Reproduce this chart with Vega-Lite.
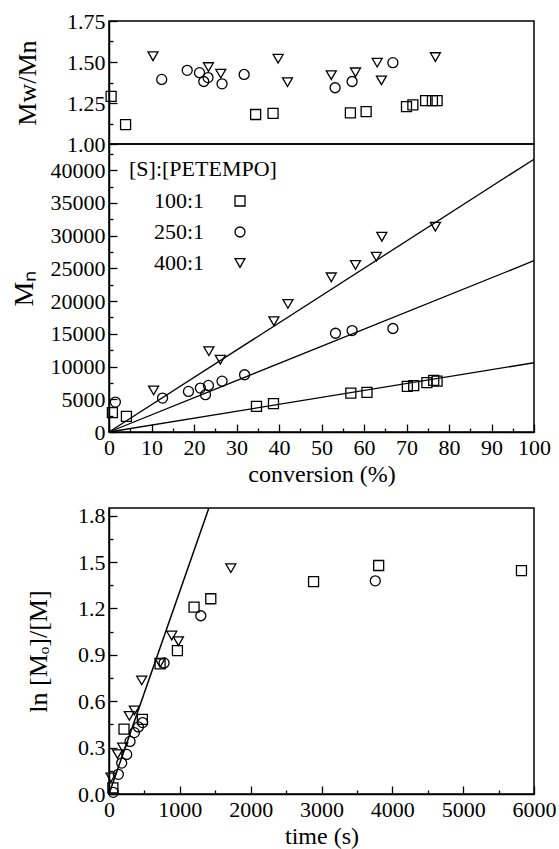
{
  "$schema": "https://vega.github.io/schema/vega-lite/v6.json",
  "padding": {"left": 9, "top": 9, "right": 5, "bottom": 0},
  "background": "white",
  "datasets": {
    "mw": [
      {"series": "100:1", "conversion": 0.5, "mwmn": 1.29},
      {"series": "100:1", "conversion": 3.9, "mwmn": 1.118},
      {"series": "100:1", "conversion": 34.5, "mwmn": 1.18},
      {"series": "100:1", "conversion": 38.6, "mwmn": 1.187},
      {"series": "100:1", "conversion": 56.8, "mwmn": 1.19},
      {"series": "100:1", "conversion": 60.5, "mwmn": 1.198},
      {"series": "100:1", "conversion": 70.0, "mwmn": 1.228},
      {"series": "100:1", "conversion": 71.5, "mwmn": 1.239},
      {"series": "100:1", "conversion": 74.5, "mwmn": 1.265},
      {"series": "100:1", "conversion": 76.1, "mwmn": 1.265},
      {"series": "100:1", "conversion": 77.2, "mwmn": 1.265},
      {"series": "250:1", "conversion": 12.4, "mwmn": 1.394},
      {"series": "250:1", "conversion": 18.4, "mwmn": 1.449},
      {"series": "250:1", "conversion": 21.3, "mwmn": 1.435},
      {"series": "250:1", "conversion": 22.3, "mwmn": 1.381},
      {"series": "250:1", "conversion": 23.3, "mwmn": 1.405},
      {"series": "250:1", "conversion": 26.6, "mwmn": 1.367},
      {"series": "250:1", "conversion": 31.8, "mwmn": 1.424},
      {"series": "250:1", "conversion": 53.2, "mwmn": 1.343},
      {"series": "250:1", "conversion": 57.2, "mwmn": 1.381},
      {"series": "250:1", "conversion": 66.8, "mwmn": 1.496},
      {"series": "400:1", "conversion": 10.35, "mwmn": 1.535},
      {"series": "400:1", "conversion": 23.4, "mwmn": 1.469},
      {"series": "400:1", "conversion": 26.3, "mwmn": 1.429},
      {"series": "400:1", "conversion": 39.8, "mwmn": 1.52},
      {"series": "400:1", "conversion": 42.0, "mwmn": 1.377},
      {"series": "400:1", "conversion": 52.3, "mwmn": 1.42},
      {"series": "400:1", "conversion": 58.0, "mwmn": 1.437},
      {"series": "400:1", "conversion": 63.1, "mwmn": 1.496},
      {"series": "400:1", "conversion": 64.1, "mwmn": 1.388},
      {"series": "400:1", "conversion": 76.8, "mwmn": 1.53}
    ],
    "mn": [
      {"series": "100:1", "conversion": 0.8, "Mn": 2960},
      {"series": "100:1", "conversion": 4.1, "Mn": 2390},
      {"series": "100:1", "conversion": 34.7, "Mn": 3920},
      {"series": "100:1", "conversion": 38.7, "Mn": 4330},
      {"series": "100:1", "conversion": 56.9, "Mn": 5950},
      {"series": "100:1", "conversion": 60.7, "Mn": 6050},
      {"series": "100:1", "conversion": 70.2, "Mn": 6970},
      {"series": "100:1", "conversion": 71.7, "Mn": 7070},
      {"series": "100:1", "conversion": 74.8, "Mn": 7530},
      {"series": "100:1", "conversion": 76.4, "Mn": 7880},
      {"series": "100:1", "conversion": 77.2, "Mn": 7780},
      {"series": "250:1", "conversion": 1.5, "Mn": 4570},
      {"series": "250:1", "conversion": 12.6, "Mn": 5180},
      {"series": "250:1", "conversion": 18.7, "Mn": 6200},
      {"series": "250:1", "conversion": 21.5, "Mn": 6710},
      {"series": "250:1", "conversion": 22.7, "Mn": 5700},
      {"series": "250:1", "conversion": 23.4, "Mn": 7120},
      {"series": "250:1", "conversion": 26.6, "Mn": 7770},
      {"series": "250:1", "conversion": 31.9, "Mn": 8750},
      {"series": "250:1", "conversion": 53.3, "Mn": 15090},
      {"series": "250:1", "conversion": 57.2, "Mn": 15500},
      {"series": "250:1", "conversion": 66.8, "Mn": 15810},
      {"series": "400:1", "conversion": 10.5, "Mn": 6360},
      {"series": "400:1", "conversion": 23.5, "Mn": 12350},
      {"series": "400:1", "conversion": 26.2, "Mn": 11040},
      {"series": "400:1", "conversion": 38.8, "Mn": 16920},
      {"series": "400:1", "conversion": 42.1, "Mn": 19570},
      {"series": "400:1", "conversion": 52.3, "Mn": 23630},
      {"series": "400:1", "conversion": 58.0, "Mn": 25520},
      {"series": "400:1", "conversion": 62.9, "Mn": 26780},
      {"series": "400:1", "conversion": 64.2, "Mn": 29830},
      {"series": "400:1", "conversion": 76.8, "Mn": 31360}
    ],
    "mnline": [
      {"series": "100:1", "conversion": 0, "Mn": 0},
      {"series": "100:1", "conversion": 100, "Mn": 10580},
      {"series": "250:1", "conversion": 0, "Mn": 0},
      {"series": "250:1", "conversion": 100, "Mn": 26170},
      {"series": "400:1", "conversion": 0, "Mn": 0},
      {"series": "400:1", "conversion": 100, "Mn": 41680}
    ],
    "kin": [
      {"series": "100:1", "time": 55, "lnm": 0.04},
      {"series": "100:1", "time": 212, "lnm": 0.419},
      {"series": "100:1", "time": 471, "lnm": 0.483},
      {"series": "100:1", "time": 721, "lnm": 0.842},
      {"series": "100:1", "time": 966, "lnm": 0.928},
      {"series": "100:1", "time": 1201, "lnm": 1.209},
      {"series": "100:1", "time": 1437, "lnm": 1.263},
      {"series": "100:1", "time": 2888, "lnm": 1.374},
      {"series": "100:1", "time": 3807, "lnm": 1.478},
      {"series": "100:1", "time": 5823, "lnm": 1.445},
      {"series": "250:1", "time": 60, "lnm": 0.011},
      {"series": "250:1", "time": 132, "lnm": 0.127},
      {"series": "250:1", "time": 179, "lnm": 0.2},
      {"series": "250:1", "time": 250, "lnm": 0.256},
      {"series": "250:1", "time": 297, "lnm": 0.34},
      {"series": "250:1", "time": 358, "lnm": 0.397},
      {"series": "250:1", "time": 415, "lnm": 0.434},
      {"series": "250:1", "time": 476, "lnm": 0.462},
      {"series": "250:1", "time": 777, "lnm": 0.848},
      {"series": "250:1", "time": 1296, "lnm": 1.153},
      {"series": "250:1", "time": 3759, "lnm": 1.379},
      {"series": "400:1", "time": 28, "lnm": 0.107},
      {"series": "400:1", "time": 120, "lnm": 0.258},
      {"series": "400:1", "time": 193, "lnm": 0.301},
      {"series": "400:1", "time": 287, "lnm": 0.505},
      {"series": "400:1", "time": 358, "lnm": 0.541},
      {"series": "400:1", "time": 462, "lnm": 0.735},
      {"series": "400:1", "time": 721, "lnm": 0.849},
      {"series": "400:1", "time": 886, "lnm": 1.025},
      {"series": "400:1", "time": 980, "lnm": 0.988},
      {"series": "400:1", "time": 1720, "lnm": 1.461}
    ],
    "kinline": [
      {"time": 0, "lnm": 0},
      {"time": 1500, "lnm": 1.968}
    ]
  },
  "spacing": 16,
  "resolve": {
    "scale": {"x": "independent", "y": "independent", "shape": "independent"},
    "legend": {"shape": "independent"}
  },
  "vconcat": [
    {
      "spacing": 0,
      "bounds": "flush",
      "resolve": {
        "scale": {"x": "independent", "y": "independent", "shape": "independent"},
        "legend": {"shape": "independent"}
      },
      "vconcat": [
        {
          "width": 425,
          "height": 123,
          "data": {"name": "mw"},
          "mark": {"type": "point", "filled": false, "stroke": "black", "strokeWidth": 1.3, "size": 100, "opacity": 1},
          "encoding": {
            "x": {"field": "conversion", "type": "quantitative", "scale": {"domain": [0, 100], "nice": false, "zero": false}, "axis": null},
            "y": {
              "field": "mwmn", "type": "quantitative",
              "scale": {"domain": [1, 1.75], "nice": false, "zero": false},
              "axis": {
                "title": "Mw/Mn", "titleFontSize": 26, "titlePadding": 26,
                "values": [1, 1.125, 1.25, 1.375, 1.5, 1.625, 1.75],
                "labelExpr": "abs((datum.value - 1) * 4 - round((datum.value - 1) * 4)) < 0.01 ? format(datum.value, '.2f') : ''",
                "tickSize": {"condition": {"test": "abs((datum.value - 1) * 4 - round((datum.value - 1) * 4)) < 0.01", "value": -8}, "value": -4},
                "labelPadding": 12, "labelFont": "Liberation Serif", "titleFont": "Liberation Serif"
              }
            },
            "shape": {"field": "series", "type": "nominal", "scale": {"domain": ["100:1", "250:1", "400:1"], "range": ["square", "circle", "triangle-down"]}, "legend": null}
          }
        },
        {
          "width": 425,
          "height": 288,
          "layer": [
            {
              "data": {"name": "mnline"},
              "mark": {"type": "line", "color": "black", "strokeWidth": 1.3},
              "encoding": {
                "x": {"field": "conversion", "type": "quantitative"},
                "y": {"field": "Mn", "type": "quantitative"},
                "detail": {"field": "series", "type": "nominal"}
              }
            },
            {
              "data": {"name": "mn"},
              "mark": {"type": "point", "filled": false, "stroke": "black", "strokeWidth": 1.3, "size": 100, "opacity": 1},
              "encoding": {
                "x": {"field": "conversion", "type": "quantitative"},
                "y": {"field": "Mn", "type": "quantitative"},
                "shape": {
                  "field": "series", "type": "nominal",
                  "scale": {"domain": ["100:1", "250:1", "400:1"], "range": ["square", "circle", "triangle-down"]},
                  "legend": {
                    "orient": "none", "legendX": 20, "legendY": 15, "padding": 0,
                    "title": "[S]:[PETEMPO]", "titleFont": "Liberation Serif", "titleFontSize": 22, "titleFontWeight": "normal", "titleColor": "black", "titlePadding": 9,
                    "labelFont": "Liberation Serif", "labelFontSize": 22, "labelColor": "black", "labelAlign": "right", "labelOffset": -47,
                    "symbolOffset": 100, "symbolSize": 100, "symbolStrokeColor": "black", "symbolStrokeWidth": 1.3, "symbolFillColor": "transparent",
                    "rowPadding": 9
                  }
                }
              }
            }
          ],
          "encoding": {
            "x": {
              "field": "conversion", "type": "quantitative",
              "scale": {"domain": [0, 100], "nice": false},
              "axis": {
                "title": "conversion (%)", "titleFontSize": 24, "titlePadding": 0,
                "values": [0, 5, 10, 15, 20, 25, 30, 35, 40, 45, 50, 55, 60, 65, 70, 75, 80, 85, 90, 95, 100],
                "labelExpr": "datum.value % 10 === 0 ? format(datum.value, 'd') : ''",
                "tickSize": {"condition": {"test": "datum.value % 10 === 0", "value": -8}, "value": -4},
                "labelPadding": 13, "labelFont": "Liberation Serif", "titleFont": "Liberation Serif"
              }
            },
            "y": {
              "field": "Mn", "type": "quantitative",
              "scale": {"domain": [0, 44000], "nice": false},
              "axis": {
                "title": "Mₙ", "titleFontSize": 28, "titlePadding": 12,
                "values": [0, 2500, 5000, 7500, 10000, 12500, 15000, 17500, 20000, 22500, 25000, 27500, 30000, 32500, 35000, 37500, 40000, 42500],
                "labelExpr": "datum.value % 5000 === 0 ? format(datum.value, 'd') : ''",
                "tickSize": {"condition": {"test": "datum.value % 5000 === 0", "value": -8}, "value": -4},
                "labelPadding": 12, "labelFont": "Liberation Serif", "titleFont": "Liberation Serif"
              }
            }
          }
        }
      ]
    },
    {
      "width": 425,
      "height": 286,
      "layer": [
        {
          "data": {"name": "kinline"},
          "mark": {"type": "line", "color": "black", "strokeWidth": 1.5, "clip": true},
          "encoding": {
            "x": {"field": "time", "type": "quantitative"},
            "y": {"field": "lnm", "type": "quantitative"}
          }
        },
        {
          "data": {"name": "kin"},
          "mark": {"type": "point", "filled": false, "stroke": "black", "strokeWidth": 1.3, "size": 100, "opacity": 1},
          "encoding": {
            "x": {"field": "time", "type": "quantitative"},
            "y": {"field": "lnm", "type": "quantitative"},
            "shape": {"field": "series", "type": "nominal", "scale": {"domain": ["100:1", "250:1", "400:1"], "range": ["square", "circle", "triangle-down"]}, "legend": null}
          }
        }
      ],
      "encoding": {
        "x": {
          "field": "time", "type": "quantitative",
          "scale": {"domain": [0, 6000], "nice": false},
          "axis": {
            "title": "time (s)", "titleFontSize": 24, "titlePadding": 0,
            "values": [0, 500, 1000, 1500, 2000, 2500, 3000, 3500, 4000, 4500, 5000, 5500, 6000],
            "labelExpr": "datum.value % 1000 === 0 ? format(datum.value, 'd') : ''",
            "tickSize": {"condition": {"test": "datum.value % 1000 === 0", "value": -8}, "value": -4},
            "labelPadding": 13, "labelFont": "Liberation Serif", "titleFont": "Liberation Serif"
          }
        },
        "y": {
          "field": "lnm", "type": "quantitative",
          "scale": {"domain": [0, 1.85], "nice": false},
          "axis": {
            "title": "ln [Mₒ]/[M]", "titleFontSize": 26, "titlePadding": 26,
            "values": [0, 0.15, 0.3, 0.45, 0.6, 0.75, 0.9, 1.05, 1.2, 1.35, 1.5, 1.65, 1.8],
            "labelExpr": "abs(datum.value / 0.3 - round(datum.value / 0.3)) < 0.01 ? format(datum.value, '.1f') : ''",
            "tickSize": {"condition": {"test": "abs(datum.value / 0.3 - round(datum.value / 0.3)) < 0.01", "value": -8}, "value": -4},
            "labelPadding": 12, "labelFont": "Liberation Serif", "titleFont": "Liberation Serif"
          }
        }
      }
    }
  ],
  "config": {
    "font": "Liberation Serif",
    "view": {"stroke": "black", "strokeWidth": 1.5},
    "axis": {
      "grid": false,
      "domainColor": "black", "domainWidth": 1.5,
      "tickColor": "black", "tickWidth": 1.3,
      "labelColor": "black", "titleColor": "black",
      "labelFont": "Liberation Serif", "titleFont": "Liberation Serif",
      "labelFontSize": 22, "titleFontWeight": "normal",
      "labelOverlap": false, "labelFlush": false
    }
  }
}
